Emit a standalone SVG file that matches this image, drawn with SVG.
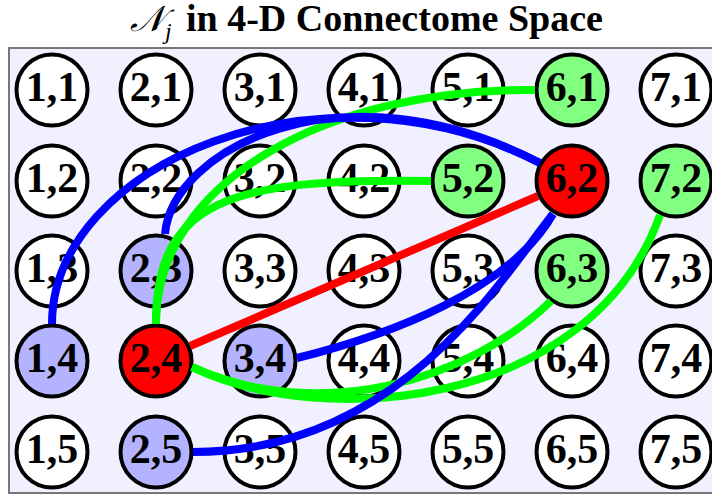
<svg xmlns="http://www.w3.org/2000/svg" width="712" height="495" viewBox="0 0 712 495">
<style>
.n circle{stroke:#000;stroke-width:4}
.n text{font-weight:bold;font-size:42px;text-anchor:middle;fill:#000}
.w circle{fill:#fff}
.b circle{fill:#b3b3ff}
.g circle{fill:#80ff80}
.r circle{fill:#ff0000}
.e path{fill:none;stroke-width:8;stroke-linecap:butt}
.eb{stroke:#0000ff}
.eg{stroke:#00ff00}
.er{stroke:#ff0000}
</style>
<rect x="0" y="0" width="712" height="495" fill="#fff"/>
<g id="title" font-family="Liberation Serif, DejaVu Serif, serif" fill="#000">
<text x="130" y="31" font-style="italic" font-size="36">𝒩</text>
<text x="165" y="39" font-style="italic" font-size="24">j</text>
<text x="186" y="31" font-weight="bold" font-size="38">in 4-D Connectome Space</text>
</g>
<rect id="frame" x="9" y="48" width="710" height="445" fill="#f0f0ff" stroke="#777" stroke-width="2"/>
<g id="nodes" font-family="Liberation Serif, DejaVu Serif, serif">
<g id="n11" class="n w"><circle cx="52" cy="90" r="35.5"/><text x="52" y="101">1,1</text></g>
<g id="n21" class="n w"><circle cx="156" cy="90" r="35.5"/><text x="156" y="101">2,1</text></g>
<g id="n31" class="n w"><circle cx="260" cy="90" r="35.5"/><text x="260" y="101">3,1</text></g>
<g id="n41" class="n w"><circle cx="364" cy="90" r="35.5"/><text x="364" y="101">4,1</text></g>
<g id="n51" class="n w"><circle cx="468" cy="90" r="35.5"/><text x="468" y="101">5,1</text></g>
<g id="n61" class="n g"><circle cx="572" cy="90" r="35.5"/><text x="572" y="101">6,1</text></g>
<g id="n71" class="n w"><circle cx="676" cy="90" r="35.5"/><text x="676" y="101">7,1</text></g>
<g id="n12" class="n w"><circle cx="52" cy="181" r="35.5"/><text x="52" y="192">1,2</text></g>
<g id="n22" class="n w"><circle cx="156" cy="181" r="35.5"/><text x="156" y="192">2,2</text></g>
<g id="n32" class="n w"><circle cx="260" cy="181" r="35.5"/><text x="260" y="192">3,2</text></g>
<g id="n42" class="n w"><circle cx="364" cy="181" r="35.5"/><text x="364" y="192">4,2</text></g>
<g id="n52" class="n g"><circle cx="468" cy="181" r="35.5"/><text x="468" y="192">5,2</text></g>
<g id="n62" class="n r"><circle cx="572" cy="181" r="35.5"/><text x="572" y="192">6,2</text></g>
<g id="n72" class="n g"><circle cx="676" cy="181" r="35.5"/><text x="676" y="192">7,2</text></g>
<g id="n13" class="n w"><circle cx="52" cy="271" r="35.5"/><text x="52" y="282">1,3</text></g>
<g id="n23" class="n b"><circle cx="156" cy="271" r="35.5"/><text x="156" y="282">2,3</text></g>
<g id="n33" class="n w"><circle cx="260" cy="271" r="35.5"/><text x="260" y="282">3,3</text></g>
<g id="n43" class="n w"><circle cx="364" cy="271" r="35.5"/><text x="364" y="282">4,3</text></g>
<g id="n53" class="n w"><circle cx="468" cy="271" r="35.5"/><text x="468" y="282">5,3</text></g>
<g id="n63" class="n g"><circle cx="572" cy="271" r="35.5"/><text x="572" y="282">6,3</text></g>
<g id="n73" class="n w"><circle cx="676" cy="271" r="35.5"/><text x="676" y="282">7,3</text></g>
<g id="n14" class="n b"><circle cx="52" cy="361" r="35.5"/><text x="52" y="372">1,4</text></g>
<g id="n24" class="n r"><circle cx="156" cy="361" r="35.5"/><text x="156" y="372">2,4</text></g>
<g id="n34" class="n b"><circle cx="260" cy="361" r="35.5"/><text x="260" y="372">3,4</text></g>
<g id="n44" class="n w"><circle cx="364" cy="361" r="35.5"/><text x="364" y="372">4,4</text></g>
<g id="n54" class="n w"><circle cx="468" cy="361" r="35.5"/><text x="468" y="372">5,4</text></g>
<g id="n64" class="n w"><circle cx="572" cy="361" r="35.5"/><text x="572" y="372">6,4</text></g>
<g id="n74" class="n w"><circle cx="676" cy="361" r="35.5"/><text x="676" y="372">7,4</text></g>
<g id="n15" class="n w"><circle cx="52" cy="452" r="35.5"/><text x="52" y="463">1,5</text></g>
<g id="n25" class="n b"><circle cx="156" cy="452" r="35.5"/><text x="156" y="463">2,5</text></g>
<g id="n35" class="n w"><circle cx="260" cy="452" r="35.5"/><text x="260" y="463">3,5</text></g>
<g id="n45" class="n w"><circle cx="364" cy="452" r="35.5"/><text x="364" y="463">4,5</text></g>
<g id="n55" class="n w"><circle cx="468" cy="452" r="35.5"/><text x="468" y="463">5,5</text></g>
<g id="n65" class="n w"><circle cx="572" cy="452" r="35.5"/><text x="572" y="463">6,5</text></g>
<g id="n75" class="n w"><circle cx="676" cy="452" r="35.5"/><text x="676" y="463">7,5</text></g>
</g>
<g id="edges" class="e">
<path class="eg" d="M156,324 C156,180 330,88 535,90"/>
<path class="eg" d="M156,324 C156,200 230,178 431,181"/>
<path class="eg" d="M192,367 C320,425 470,380 551,301"/>
<path class="eg" d="M192,367 C320,430 590,410 660,215"/>
<path class="eb" d="M52,324 C52,165 320,50 540,163"/>
<path class="eb" d="M165,234 C172,150 340,60 540,163"/>
<path class="eb" d="M297,358 C390,335 510,290 553,214"/>
<path class="eb" d="M193,452 C400,452 500,280 553,214"/>
<path class="er" d="M190,346 L538,196"/>
</g>
</svg>
